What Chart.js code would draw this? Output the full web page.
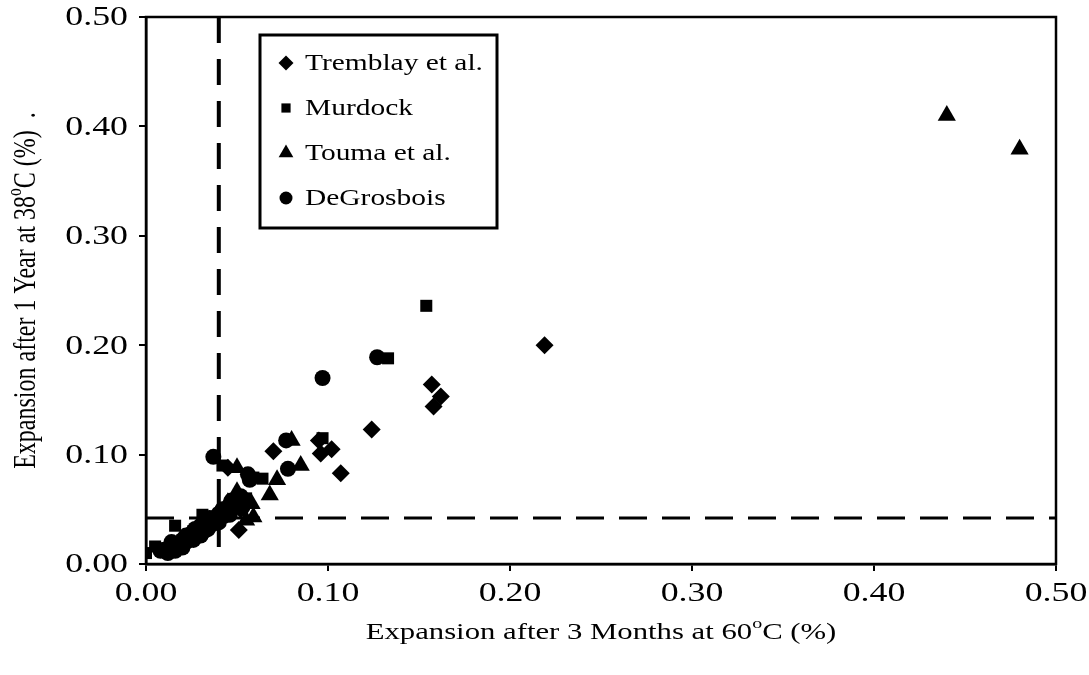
<!DOCTYPE html>
<html>
<head>
<meta charset="utf-8">
<script src="https://cdn.jsdelivr.net/npm/chart.js@4.4.0/dist/chart.umd.min.js"></script>
<style>
    html, body { margin: 0; padding: 0; background: #fff; }
    #wrap { width: 1089px; height: 675px; }
</style>
</head>
<body>
<div id="wrap"><canvas id="chart" width="1089" height="675"></canvas></div>
<script>
// series names as in the legend
var seriesNames = ["Tremblay et al.", "Murdock", "Touma et al.", "DeGrosbois"];

// [3 months at 60C, 1 year at 38C], expansion in %
var tremblay = [
    [0.219, 0.200], [0.157, 0.164], [0.162, 0.153], [0.158, 0.144],
    [0.124, 0.123], [0.095, 0.113], [0.096, 0.101], [0.102, 0.105],
    [0.107, 0.083], [0.070, 0.103], [0.051, 0.031], [0.045, 0.088],
    [0.036, 0.040], [0.028, 0.028], [0.052, 0.050]
];
var murdock = [
    [0.154, 0.236], [0.133, 0.188], [0.097, 0.115], [0.064, 0.078],
    [0.059, 0.079], [0.000, 0.010], [0.005, 0.016], [0.016, 0.035],
    [0.031, 0.045], [0.050, 0.055], [0.042, 0.090], [0.026, 0.030],
    [0.036, 0.042], [0.055, 0.060], [0.010, 0.014]
];
var touma = [
    [0.440, 0.410], [0.480, 0.379], [0.080, 0.113], [0.085, 0.090],
    [0.068, 0.063], [0.072, 0.077], [0.050, 0.088], [0.059, 0.043],
    [0.055, 0.040], [0.050, 0.066], [0.058, 0.055], [0.045, 0.056],
    [0.032, 0.035], [0.040, 0.048]
];
var degrosbois = [
    [0.127, 0.189], [0.097, 0.170], [0.077, 0.113], [0.078, 0.087],
    [0.057, 0.077], [0.037, 0.098], [0.056, 0.082], [0.050, 0.060],
    [0.048, 0.055], [0.040, 0.046], [0.035, 0.042], [0.030, 0.035],
    [0.025, 0.028], [0.020, 0.022], [0.015, 0.016], [0.010, 0.013],
    [0.016, 0.012], [0.022, 0.020], [0.038, 0.040], [0.045, 0.050],
    [0.028, 0.030], [0.033, 0.038], [0.018, 0.018], [0.042, 0.050],
    [0.012, 0.010], [0.008, 0.012], [0.024, 0.024], [0.027, 0.032],
    [0.032, 0.030], [0.036, 0.036], [0.043, 0.044], [0.047, 0.058],
    [0.052, 0.062], [0.053, 0.052], [0.020, 0.015], [0.026, 0.022],
    [0.034, 0.032], [0.040, 0.038], [0.046, 0.045], [0.030, 0.026],
    [0.014, 0.020], [0.022, 0.026]
];

// dashed limit lines
var limitX = 0.04;
var limitY = 0.042;

var axisTicks = [0, 0.1, 0.2, 0.3, 0.4, 0.5];

var styles = ["rectRot", "rect", "triangle", "circle"];
var radii = [9, 8.5, 10.5, 8];
var legendRadii = [7.5, 6.5, 8.5, 6.5];

var serif = "'Liberation Serif', 'Times New Roman', serif";
// the original picture is wider than tall, text looks stretched sideways
var stretch = 1.28;

function toPoints(arr) {
    return arr.map(function (p) {
        return { x: p[0], y: p[1] };
    });
}

// text with a raised small "o", centred on 0,0
function drawSupText(ctx, parts, size) {
    var total = 0;
    parts.forEach(function (p) {
        ctx.font = (p[1] ? size * 0.65 : size) + "px " + serif;
        total += ctx.measureText(p[0]).width;
    });
    var x = -total / 2;
    parts.forEach(function (p) {
        ctx.font = (p[1] ? size * 0.65 : size) + "px " + serif;
        ctx.fillText(p[0], x, p[1] ? -size * 0.38 : 0);
        x += ctx.measureText(p[0]).width;
    });
}

function wideText(ctx, text, x, y, align) {
    ctx.save();
    ctx.translate(x, y);
    ctx.scale(stretch, 1);
    ctx.textAlign = align;
    ctx.fillText(text, 0, 0);
    ctx.restore();
}

var extrasPlugin = {
    id: "extras",
    afterDraw: function (chart) {
        var ctx = chart.ctx;
        var a = chart.chartArea;
        var xs = chart.scales.x, ys = chart.scales.y;
        ctx.save();

        // plot frame
        ctx.strokeStyle = "#000";
        ctx.lineWidth = 2.5;
        ctx.strokeRect(a.left, a.top, a.right - a.left, a.bottom - a.top);

        ctx.fillStyle = "#000";
        ctx.textBaseline = "middle";

        // tick labels
        ctx.font = "28px " + serif;
        axisTicks.forEach(function (v) {
            wideText(ctx, v.toFixed(2), xs.getPixelForValue(v), 594, "center");
            wideText(ctx, v.toFixed(2), 128, ys.getPixelForValue(v) + 1, "right");
        });

        // axis titles
        ctx.textAlign = "left";
        ctx.save();
        ctx.translate((a.left + a.right) / 2, 633);
        ctx.scale(stretch, 1);
        drawSupText(ctx, [["Expansion after 3 Months at 60", false], ["o", true], ["C (%)", false]], 24);
        ctx.restore();

        ctx.save();
        ctx.translate(27, (a.top + a.bottom) / 2);
        ctx.rotate(-Math.PI / 2);
        ctx.scale(1, stretch);
        drawSupText(ctx, [["Expansion after 1 Year at 38", false], ["o", true], ["C (%)  .", false]], 24);
        ctx.restore();

        // legend box
        var bx = 260, by = 35, bw = 237, bh = 193;
        ctx.fillStyle = "#fff";
        ctx.fillRect(bx, by, bw, bh);
        ctx.lineWidth = 3;
        ctx.strokeRect(bx, by, bw, bh);
        ctx.fillStyle = "#000";
        ctx.font = "23px " + serif;
        for (var i = 0; i < seriesNames.length; i++) {
            var ry = 63 + i * 45;
            Chart.helpers.drawPoint(ctx, {
                pointStyle: styles[i],
                radius: legendRadii[i],
                rotation: 0,
                borderWidth: 0
            }, 286, ry);
            wideText(ctx, seriesNames[i], 305, ry + 1, "left");
        }
        ctx.restore();
    }
};

function makeChart() {
    var allSeries = [tremblay, murdock, touma, degrosbois];
    var datasets = allSeries.map(function (s, i) {
        return {
            type: "scatter",
            label: seriesNames[i],
            data: toPoints(s),
            pointStyle: styles[i],
            pointRadius: radii[i],
            pointHoverRadius: radii[i],
            backgroundColor: "#000",
            borderColor: "#000",
            borderWidth: 0
        };
    });

    datasets.push({
        type: "line",
        label: "limitX",
        data: [{ x: limitX, y: 0.5 }, { x: limitX, y: 0 }],
        borderColor: "#000",
        borderWidth: 4,
        borderDash: [26, 16],
        pointRadius: 0,
        fill: false
    });
    datasets.push({
        type: "line",
        label: "limitY",
        data: [{ x: 0, y: limitY }, { x: 0.5, y: limitY }],
        borderColor: "#000",
        borderWidth: 3,
        borderDash: [28, 15],
        pointRadius: 0,
        fill: false
    });

    new Chart(document.getElementById("chart").getContext("2d"), {
        data: { datasets: datasets },
        options: {
            responsive: false,
            animation: false,
            layout: { padding: { left: 0, top: 17, right: 33, bottom: 0 } },
            plugins: {
                legend: { display: false },
                tooltip: { enabled: false }
            },
            scales: {
                x: {
                    type: "linear",
                    min: 0,
                    max: 0.5,
                    afterFit: function (scale) { scale.height = 111; },
                    afterBuildTicks: function (scale) {
                        scale.ticks = axisTicks.map(function (v) { return { value: v }; });
                    },
                    ticks: { display: false },
                    grid: { display: true, drawOnChartArea: false, drawTicks: true, tickLength: 7, color: "#000", lineWidth: 2 },
                    border: { display: true, color: "#000", width: 2.5 }
                },
                y: {
                    type: "linear",
                    min: 0,
                    max: 0.5,
                    afterFit: function (scale) { scale.width = 146; },
                    afterBuildTicks: function (scale) {
                        scale.ticks = axisTicks.map(function (v) { return { value: v }; });
                    },
                    ticks: { display: false },
                    grid: { display: true, drawOnChartArea: false, drawTicks: true, tickLength: 7, color: "#000", lineWidth: 2 },
                    border: { display: true, color: "#000", width: 2.5 }
                }
            }
        },
        plugins: [extrasPlugin]
    });
}

// make sure the serif face is ready before drawing on the canvas
if (document.fonts && document.fonts.load) {
    document.fonts.load("28px 'Liberation Serif'").then(makeChart, makeChart);
} else {
    makeChart();
}
</script>
</body>
</html>
